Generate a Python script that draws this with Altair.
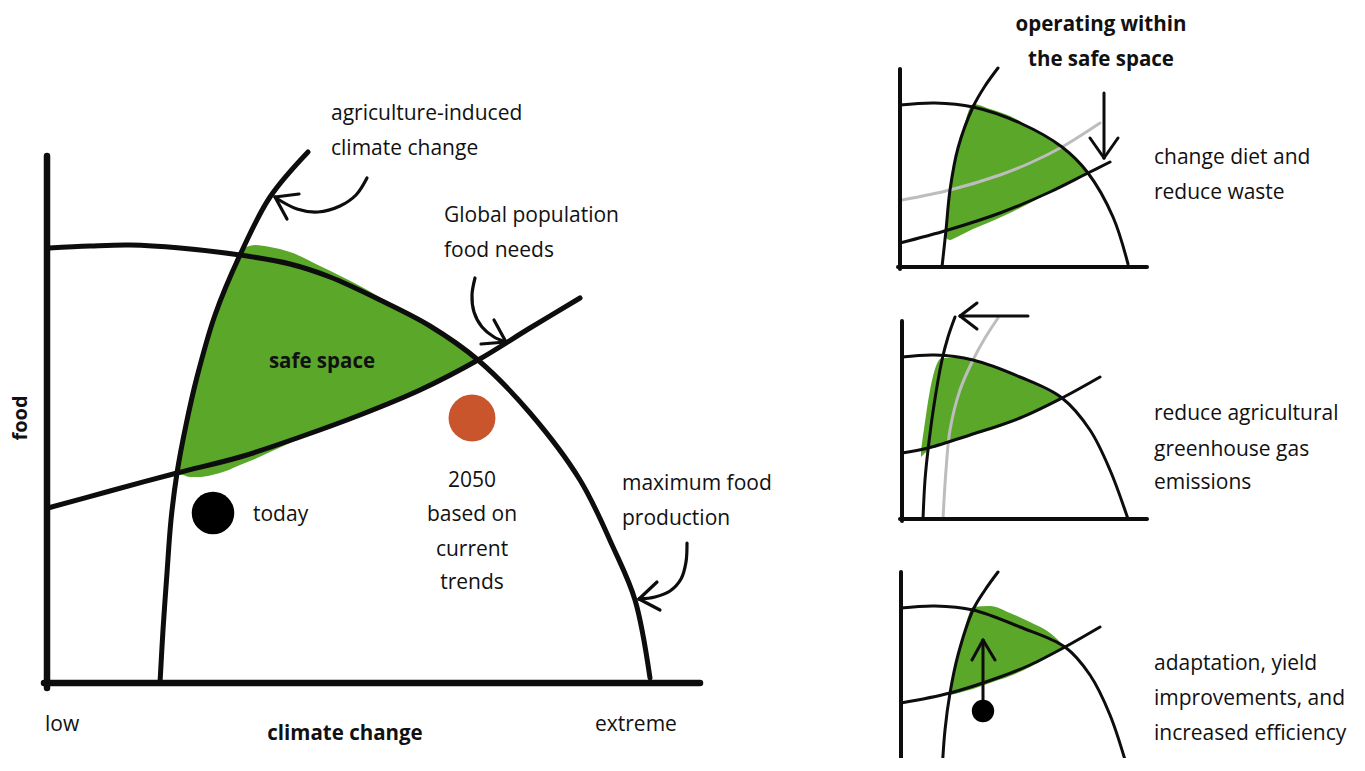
import altair as alt
import pandas as pd

# ---------------------------------------------------------------------------
# Picture space: x and y are read in picture units (y grows downwards)
# ---------------------------------------------------------------------------
W, H = 1345, 750
XD = [8, 8 + W]
YD = [8, 8 + H]

GREEN = "#5AA72A"
ORANGE = "#C9552C"
GRAY = "#BDBDBD"
INK = "#0d0d0d"
FONT = "Open Sans"

# ---------------- main panel ----------------
main_axes = [  # x, y, x2, y2
    (47, 156, 47, 688),
    (44, 683, 700, 683),
]
main_arc_x = [49, 90, 130, 180, 240, 290, 330, 380, 430, 478, 530, 580, 613, 635, 650]
main_arc_y = [248, 246, 245, 248, 255, 264, 277, 300, 326, 360, 413, 480, 547, 600, 678]
main_clim_x = [160, 163, 167, 171, 177, 186, 197, 215, 240, 270, 308]
main_clim_y = [683, 630, 573, 520, 473, 425, 377, 315, 255, 197, 152]
main_pop_x = [48, 110, 177, 240, 300, 360, 420, 478, 530, 580]
main_pop_y = [508, 491, 473, 457, 437, 415, 390, 360, 328, 298]

main_green_x = [177, 183, 190, 200, 212, 226, 240, 255, 270, 290, 320, 360, 400, 440, 478]
main_green_top = [473, 440, 408, 368, 325, 287, 251, 245, 247, 252, 266, 286, 309, 333, 360]
main_green_bot = [474, 475, 477, 477, 475, 471, 465, 459, 452, 443, 430, 415, 399, 381, 360]

today_dot = (213, 513)
trend_dot = (472, 418)

arrow1_x = [367, 356, 340, 318, 297, 276]
arrow1_y = [178, 195, 206, 212, 209, 198]
arrow1_tip = (275, 197)
arrow1_barbs = [(299, 194), (287, 219)]

arrow2_x = [475, 472, 474, 482, 494, 506]
arrow2_y = [278, 295, 312, 327, 337, 342]
arrow2_tip = (506, 342)
arrow2_barbs = [(481, 344), (494, 320)]

arrow3_x = [687, 686, 681, 670, 655, 639]
arrow3_y = [543, 562, 579, 591, 597, 599]
arrow3_tip = (639, 599)
arrow3_barbs = [(657, 582), (660, 610)]

main_labels = [  # text, x, y
    ("agriculture-induced", 331, 114), ("climate change", 331, 149),
    ("Global population", 444, 216), ("food needs", 444, 251),
    ("today", 253, 515),
    ("maximum food", 622, 484), ("production", 622, 519),
    ("low", 45, 725), ("extreme", 595, 725),
]
trend_labels = [("2050", 472, 481), ("based on", 472, 515), ("current", 472, 550), ("trends", 472, 583)]
bold_labels = [("safe space", 322, 362), ("climate change", 345, 734),
               ("operating within", 1101, 25), ("the safe space", 1101, 60)]
food_label = ("food", 21, 418)

# ---------------- small panel 1 : change diet ----------------
p1_axes = [(900, 69, 900, 269), (898, 267, 1147, 267)]
p1_arc_x = [900, 935, 973, 1020, 1062, 1088, 1113, 1128]
p1_arc_y = [105, 103, 107, 123, 147, 173, 217, 264]
p1_clim_x = [942, 946, 950, 958, 973, 985, 998]
p1_clim_y = [267, 230, 190, 148, 107, 86, 68]
p1_pop_x = [900, 948, 1000, 1050, 1088, 1110]
p1_pop_y = [243, 230, 213, 192, 173, 162]
p1_old_pop_x = [902, 950, 1000, 1030, 1062, 1100]
p1_old_pop_y = [200, 190, 175, 163, 147, 123]
p1_green_x = [946, 950, 955, 963, 973, 990, 1010, 1030, 1050, 1070, 1088]
p1_green_top = [232, 190, 160, 130, 104, 109, 116, 127, 139, 155, 173]
p1_green_bot = [238, 240, 238, 234, 229, 222, 213, 203, 192, 182, 173]
p1_arrow = [(1104, 93), (1104, 158)]
p1_barbs = [(1090, 138), (1118, 138)]
p1_labels = [("change diet and", 1154, 158), ("reduce waste", 1154, 193)]

# ---------------- small panel 2 : reduce emissions ----------------
p2_axes = [(902, 321, 902, 521), (900, 519, 1147, 519)]
p2_arc_x = [902, 935, 973, 1020, 1062, 1090, 1110, 1128]
p2_arc_y = [357, 355, 360, 377, 398, 430, 470, 519]
p2_clim_x = [923, 925, 928, 934, 942, 948, 955]
p2_clim_y = [519, 480, 450, 405, 360, 337, 317]
p2_old_clim_x = [943, 946, 950, 960, 973, 985, 998]
p2_old_clim_y = [519, 470, 430, 390, 360, 338, 318]
p2_pop_x = [902, 928, 970, 1020, 1062, 1100]
p2_pop_y = [453, 448, 435, 418, 398, 377]
p2_green_x = [921, 925, 930, 936, 942, 960, 980, 1000, 1020, 1040, 1062]
p2_green_top = [450, 422, 390, 366, 358, 358, 362, 368, 377, 387, 398]
p2_green_bot = [457, 453, 449, 447, 444, 439, 433, 427, 418, 409, 398]
p2_arrow = [(1028, 316), (960, 316)]
p2_barbs = [(977, 303), (977, 329)]
p2_labels = [("reduce agricultural", 1154, 414), ("greenhouse gas", 1154, 450), ("emissions", 1154, 483)]

# ---------------- small panel 3 : adaptation ----------------
p3_axes = [(901, 572, 901, 772), (899, 771, 1147, 771)]
p3_arc_x = [901, 935, 973, 1020, 1065, 1090, 1110, 1128]
p3_arc_y = [608, 606, 610, 627, 647, 675, 715, 770]
p3_clim_x = [942, 945, 950, 958, 973, 985, 998]
p3_clim_y = [772, 730, 693, 655, 610, 590, 572]
p3_pop_x = [901, 950, 1000, 1030, 1065, 1100]
p3_pop_y = [703, 693, 677, 665, 647, 627]
p3_green_x = [950, 955, 962, 973, 990, 1010, 1030, 1050, 1065]
p3_green_top = [693, 665, 640, 607, 606, 613, 622, 633, 647]
p3_green_bot = [695, 694, 692, 689, 683, 676, 667, 656, 647]
p3_arrow = [(983, 705), (983, 640)]
p3_barbs = [(972, 660), (995, 660)]
p3_dot = (983, 711)
p3_labels = [("adaptation, yield", 1154, 664), ("improvements, and", 1154, 699),
             ("increased efficiency", 1154, 734)]

# ---------------------------------------------------------------------------
X = lambda f="x": alt.X(f"{f}:Q", scale=alt.Scale(domain=XD, nice=False, zero=False), axis=None)
Y = lambda f="y": alt.Y(f"{f}:Q", scale=alt.Scale(domain=YD, reverse=True, nice=False, zero=False), axis=None)


def curves(items):
    rows = []
    for name, xs, ys in items:
        for i, (a, b) in enumerate(zip(xs, ys)):
            rows.append({"curve": name, "seq": i, "x": a, "y": b})
    return pd.DataFrame(rows)


def segs(items):
    return pd.DataFrame([{"x": a, "y": b, "x2": c, "y2": d} for a, b, c, d in items])


def barb_segs(tip, barbs):
    return [(tip[0], tip[1], bx, by) for bx, by in barbs]


def area_df(xs, top, bot, name):
    return pd.DataFrame({"x": xs, "top": top, "bot": bot, "region": name})


def line_layer(df, width, color):
    return alt.Chart(df).mark_line(
        interpolate="catmull-rom", strokeWidth=width, color=color, strokeCap="round", strokeJoin="round"
    ).encode(x=X(), y=Y(), detail="curve:N", order="seq:Q")


def rule_layer(df, width, color=INK):
    return alt.Chart(df).mark_rule(strokeWidth=width, color=color, strokeCap="round").encode(
        x=X(), y=Y(), x2="x2:Q", y2="y2:Q")


def text_layer(items, size, weight="normal", align="left"):
    df = pd.DataFrame([{"label": t, "x": a, "y": b} for t, a, b in items])
    return alt.Chart(df).mark_text(
        align=align, baseline="middle", font=FONT, fontSize=size, fontWeight=weight, color="#111"
    ).encode(x=X(), y=Y(), text="label:N")


green = pd.concat([
    area_df(main_green_x, main_green_top, main_green_bot, "main"),
    area_df(p1_green_x, p1_green_top, p1_green_bot, "p1"),
    area_df(p2_green_x, p2_green_top, p2_green_bot, "p2"),
    area_df(p3_green_x, p3_green_top, p3_green_bot, "p3"),
])
green_layer = alt.Chart(green).mark_area(interpolate="monotone", color=GREEN, opacity=1).encode(
    x=X(), y=Y("top"), y2="bot:Q", detail="region:N")

main_lines = curves([
    ("arc", main_arc_x, main_arc_y), ("clim", main_clim_x, main_clim_y), ("pop", main_pop_x, main_pop_y)])
main_arrows = curves([
    ("a1", arrow1_x, arrow1_y), ("a2", arrow2_x, arrow2_y), ("a3", arrow3_x, arrow3_y)])
small_lines = curves([
    ("p1arc", p1_arc_x, p1_arc_y), ("p1clim", p1_clim_x, p1_clim_y), ("p1pop", p1_pop_x, p1_pop_y),
    ("p2arc", p2_arc_x, p2_arc_y), ("p2clim", p2_clim_x, p2_clim_y), ("p2pop", p2_pop_x, p2_pop_y),
    ("p3arc", p3_arc_x, p3_arc_y), ("p3clim", p3_clim_x, p3_clim_y), ("p3pop", p3_pop_x, p3_pop_y)])
gray_lines = curves([("p1old", p1_old_pop_x, p1_old_pop_y), ("p2old", p2_old_clim_x, p2_old_clim_y)])

main_axes_df = segs(main_axes)
small_axes_df = segs(p1_axes + p2_axes + p3_axes)
main_barbs_df = segs(barb_segs(arrow1_tip, arrow1_barbs) + barb_segs(arrow2_tip, arrow2_barbs)
                     + barb_segs(arrow3_tip, arrow3_barbs))
small_arrow_df = segs([p1_arrow[0] + p1_arrow[1], p2_arrow[0] + p2_arrow[1], p3_arrow[0] + p3_arrow[1]]
                      + barb_segs(p1_arrow[1], p1_barbs) + barb_segs(p2_arrow[1], p2_barbs)
                      + barb_segs(p3_arrow[1], p3_barbs))

big_dots = pd.DataFrame([{"x": today_dot[0], "y": today_dot[1], "what": "today"}])
trend_df = pd.DataFrame([{"x": trend_dot[0], "y": trend_dot[1], "what": "2050"}])
small_dot = pd.DataFrame([{"x": p3_dot[0], "y": p3_dot[1], "what": "today"}])

layers = [
    green_layer,
    line_layer(gray_lines, 3, GRAY),
    line_layer(main_lines, 5, INK),
    line_layer(small_lines, 3, INK),
    line_layer(main_arrows, 3.2, INK),
    rule_layer(main_barbs_df, 3.2),
    rule_layer(small_arrow_df, 3),
    rule_layer(main_axes_df, 6.5),
    rule_layer(small_axes_df, 4),
    alt.Chart(big_dots).mark_circle(size=1810, color="black", opacity=1).encode(x=X(), y=Y()),
    alt.Chart(trend_df).mark_circle(size=2200, color=ORANGE, opacity=1).encode(x=X(), y=Y()),
    alt.Chart(small_dot).mark_circle(size=500, color="black", opacity=1).encode(x=X(), y=Y()),
    text_layer(main_labels + p1_labels + p2_labels + p3_labels, 21),
    text_layer(trend_labels, 21, align="center"),
    text_layer(bold_labels, 20.5, weight="bold", align="center"),
    alt.Chart(pd.DataFrame([{"label": food_label[0], "x": food_label[1], "y": food_label[2]}])).mark_text(
        align="center", baseline="middle", angle=270, font=FONT, fontSize=20, fontWeight="bold", color="#111"
    ).encode(x=X(), y=Y(), text="label:N"),
]

chart = alt.layer(*layers).properties(
    width=W, height=H, padding=0, autosize=alt.AutoSizeParams(type="none"), background="white"
).configure_view(stroke=None)

chart.save("out.html", embed_options={"renderer": "svg", "actions": False})
